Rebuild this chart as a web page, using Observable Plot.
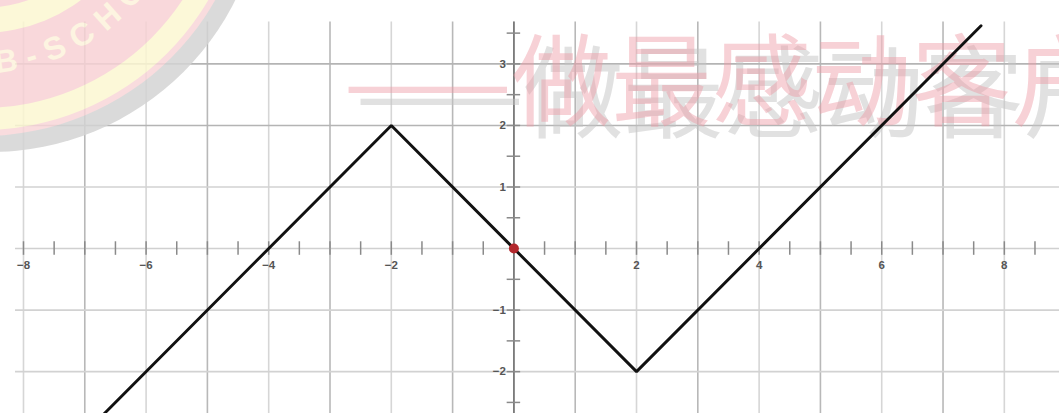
<!DOCTYPE html>
<html>
<head>
<meta charset="utf-8">
<script src="https://cdn.jsdelivr.net/npm/d3@7"></script>
<script src="https://cdn.jsdelivr.net/npm/@observablehq/plot@0.6"></script>
<style>
  html, body { margin: 0; padding: 0; background: #fff; overflow: hidden; }
  #chart svg { display: block; }
</style>
</head>
<body>
<div id="chart"></div>
<script>
// Piecewise-linear function y = |x| style zig-zag: vertices of the polyline
const curveX = [-6.72, -2, 2, 7.62];
const curveY = [-2.72, 2, -2, 3.62];

// Marked point at the origin
const pointX = [0];
const pointY = [0];

// Unit grid
const gridX = [-8, -7, -6, -5, -4, -3, -2, -1, 0, 1, 2, 3, 4, 5, 6, 7, 8];
const gridY = [-2, -1, 1, 2, 3];

// Half-unit tick marks on both axes
const tickX = [-8, -7.5, -7, -6.5, -6, -5.5, -5, -4.5, -4, -3.5, -3, -2.5, -2, -1.5, -1, -0.5,
               0.5, 1, 1.5, 2, 2.5, 3, 3.5, 4, 4.5, 5, 5.5, 6, 6.5, 7, 7.5, 8, 8.5];
const tickY = [-2.5, -2, -1.5, -1, -0.5, 0.5, 1, 1.5, 2, 2.5, 3, 3.5];

// Labelled values
const labelX = [-8, -6, -4, -2, 2, 4, 6, 8];
const labelY = [-2, -1, 1, 2, 3];

const W = 1059, H = 413;
const fmt = d => (d < 0 ? "\u2212" + Math.abs(d) : String(d));

const curve = curveX.map((x, i) => ({x, y: curveY[i]}));
const origin = pointX.map((x, i) => ({x, y: pointY[i]}));

const plot = Plot.plot({
  width: W,
  height: H,
  margin: 0,
  style: {background: "#fff", overflow: "visible"},
  x: {domain: [-8.375, 8.9], axis: null},
  y: {domain: [-2.68, 4.03], axis: null},
  marks: [
    // vertical grid lines (odd columns print slightly darker)
    Plot.ruleX(gridX, {x: d => d, y1: -2.68, y2: 3.68,
      stroke: d => (Math.abs(d) % 2 === 1 ? "#b8b8b8" : "#d6d6d6"), strokeWidth: 1.6}),
    // horizontal grid lines
    Plot.ruleY(gridY, {y: d => d, x1: -8.13, x2: 8.9,
      stroke: d => (d >= 2 ? "#b4b4b4" : "#d2d2d2"), strokeWidth: 1.6}),
    // x axis
    Plot.ruleY([0], {x1: -8.13, x2: 8.9, stroke: "#d0d0d0", strokeWidth: 1.6}),
    Plot.ruleX(tickX, {x: d => d, y1: -0.11, y2: 0.11, stroke: "#8a8a8a", strokeWidth: 1.5}),
    // y axis
    Plot.ruleX([0], {y1: -2.68, y2: 3.68, stroke: "#7a7a7a", strokeWidth: 1.8}),
    Plot.ruleY(tickY, {y: d => d, x1: -0.11, x2: 0.11, stroke: "#8a8a8a", strokeWidth: 1.5}),
    // tick labels
    Plot.text(labelX, {x: d => d, y: 0, dy: 17, text: fmt,
      fontSize: 11.5, fontWeight: 600, fill: "#555", fontFamily: "Liberation Sans, Arial, sans-serif"}),
    Plot.text(labelY, {x: 0, y: d => d, dx: -8, text: fmt, textAnchor: "end",
      fontSize: 11.5, fontWeight: 600, fill: "#555", fontFamily: "Liberation Sans, Arial, sans-serif"}),
    // the function graph
    Plot.line(curve, {x: "x", y: "y", stroke: "#111", strokeWidth: 2.9, strokeLinejoin: "miter"}),
    // origin
    Plot.dot(origin, {x: "x", y: "y", r: 5, fill: "#b3282d", stroke: "none"})
  ]
});

document.getElementById("chart").appendChild(plot);

// Decorative seal and slogan layered under the graph line
const svg = d3.select(plot);
const deco = svg.insert("g", "g[aria-label='line']")
  .attr("pointer-events", "none")
  .attr("text-anchor", "start");

// round seal in the upper-left corner
const cx = -18, cy = -132;
const seal = deco.append("g").attr("opacity", 0.85);
seal.append("circle").attr("cx", cx + 8).attr("cy", cy + 10).attr("r", 274)
  .attr("fill", "#d4d4d4");
seal.append("circle").attr("cx", cx).attr("cy", cy).attr("r", 268).attr("fill", "#f8d6d9");
seal.append("circle").attr("cx", cx).attr("cy", cy).attr("r", 262).attr("fill", "#fcf7d2");
seal.append("circle").attr("cx", cx).attr("cy", cy).attr("r", 240).attr("fill", "#f8d2d5");
seal.append("circle").attr("cx", cx).attr("cy", cy).attr("r", 165).attr("fill", "#fcf7d2");
seal.append("circle").attr("cx", cx).attr("cy", cy).attr("r", 140).attr("fill", "#f8d2d5");

const rText = 205;
const a0 = 100 * Math.PI / 180, a1 = 20 * Math.PI / 180;
const arcPath = `M${cx + rText * Math.cos(a0)},${cy + rText * Math.sin(a0)} ` +
  `A${rText},${rText} 0 0 0 ${cx + rText * Math.cos(a1)},${cy + rText * Math.sin(a1)}`;
seal.append("defs").append("path").attr("id", "sealArc").attr("d", arcPath);
seal.append("text")
  .attr("text-anchor", "start")
  .attr("font-family", "Liberation Sans, Arial, sans-serif")
  .attr("font-size", 32).attr("font-weight", 700)
  .attr("letter-spacing", 10)
  .attr("fill", "#fdf3dc")
  .append("textPath").attr("href", "#sealArc").attr("startOffset", 50)
  .text("B-SCHOOL");

// slogan with its grey drop shadow
const slogan = "\u2014\u2014做最感动客户";
const sloganFont = "'Noto Sans CJK SC', 'Noto Sans', sans-serif";
deco.append("text").attr("x", 356).attr("y", 130).attr("text-anchor", "start")
  .attr("font-family", sloganFont).attr("font-size", 100)
  .attr("fill", "#c4c4c4").attr("fill-opacity", 0.5).text(slogan);
deco.append("text").attr("x", 344).attr("y", 118).attr("text-anchor", "start")
  .attr("font-family", sloganFont).attr("font-size", 100)
  .attr("fill", "#ee9aa3").attr("fill-opacity", 0.45).text(slogan);
</script>
</body>
</html>
